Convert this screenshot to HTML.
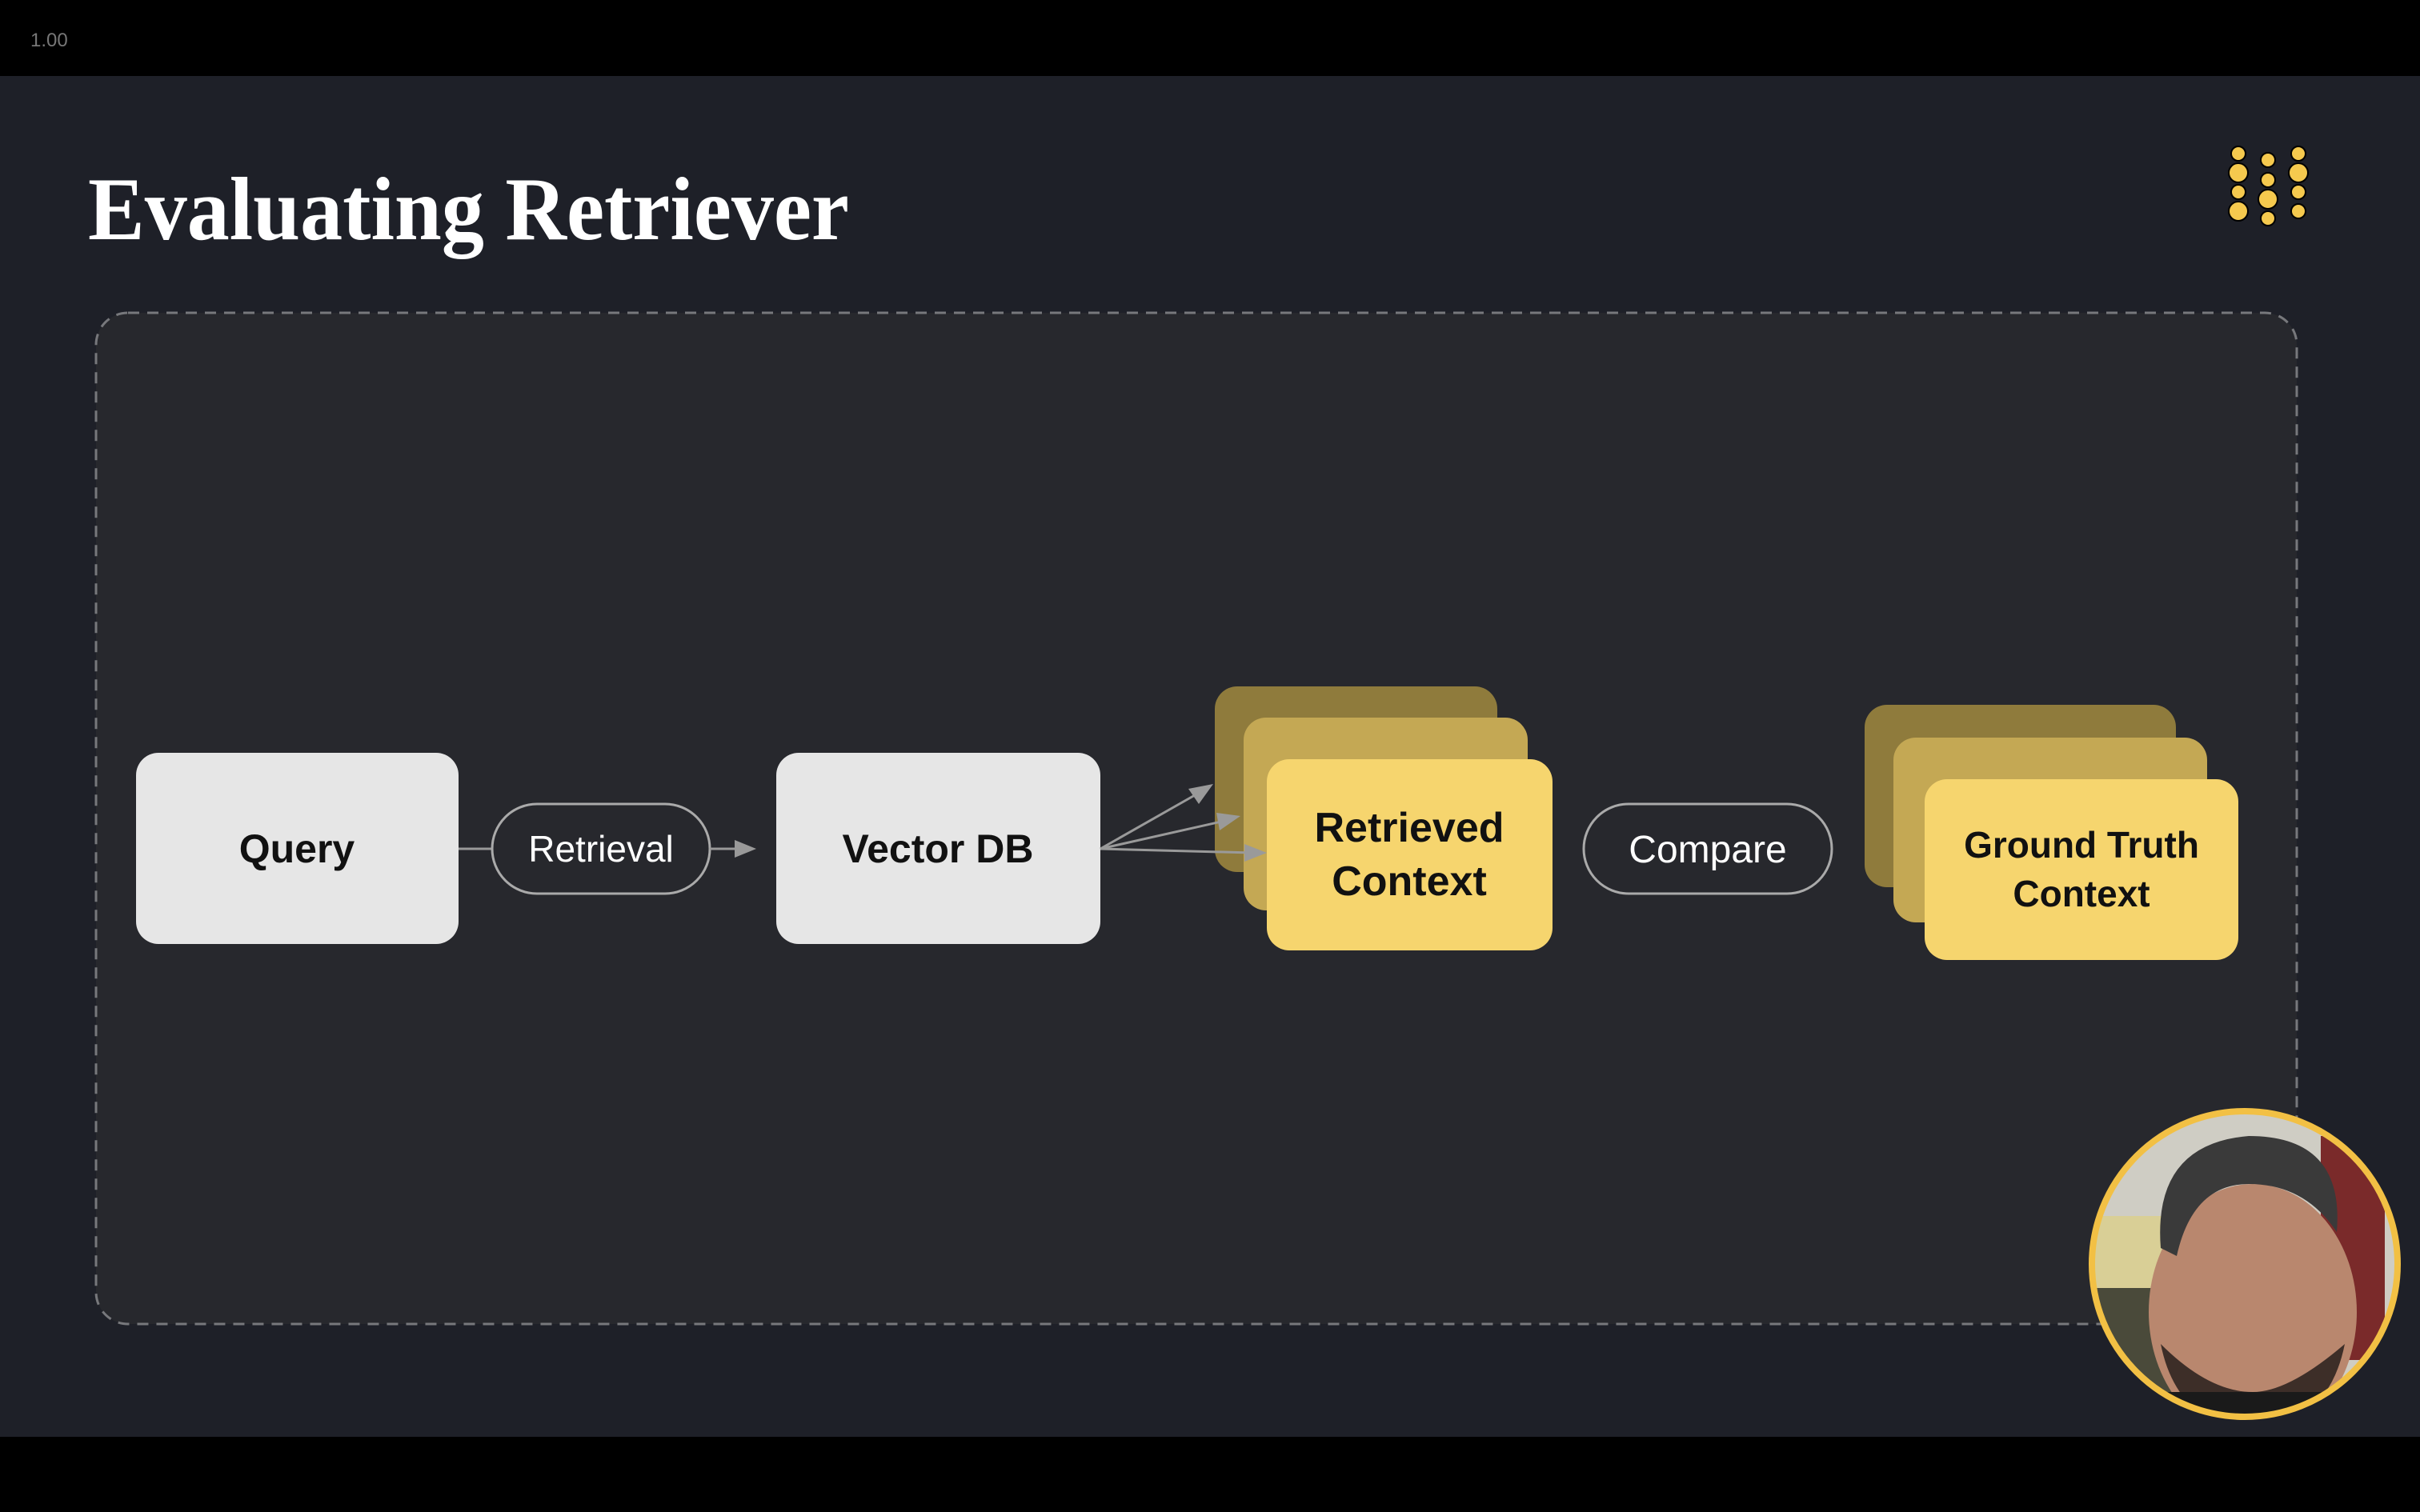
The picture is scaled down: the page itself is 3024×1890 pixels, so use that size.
<!DOCTYPE html>
<html><head><meta charset="utf-8"><style>
html,body{margin:0;padding:0;background:#1e2028;}
svg{display:block}
</style></head><body>
<svg width="3024" height="1890" viewBox="0 0 3024 1890" xmlns="http://www.w3.org/2000/svg">
<rect x="0" y="0" width="3024" height="1890" fill="#1e2028"/>
<rect x="0" y="0" width="3024" height="95" fill="#000"/>
<rect x="0" y="1796" width="3024" height="94" fill="#000"/>
<text x="38" y="58" font-family="Liberation Sans, sans-serif" font-size="24" fill="#777">1.00</text>
<text x="110" y="299" font-family="Liberation Serif, serif" font-weight="bold" font-size="112" fill="#fff" textLength="951" lengthAdjust="spacingAndGlyphs">Evaluating Retriever</text>
<g fill="#f5c94e" stroke="#000" stroke-width="2">
<circle cx="2797" cy="192" r="9"/><circle cx="2797" cy="216" r="12"/><circle cx="2797" cy="240" r="9"/><circle cx="2797" cy="264" r="12"/>
<circle cx="2834" cy="200" r="9"/><circle cx="2834" cy="225" r="9"/><circle cx="2834" cy="249" r="12"/><circle cx="2834" cy="273" r="9"/>
<circle cx="2872" cy="192" r="9"/><circle cx="2872" cy="216" r="12"/><circle cx="2872" cy="240" r="9"/><circle cx="2872" cy="264" r="9"/>
</g>
<rect x="120" y="391" width="2750" height="1264" rx="40" fill="#27282d" stroke="#77787c" stroke-width="3" stroke-dasharray="14 10"/>
<g font-family="Liberation Sans, sans-serif" text-anchor="middle">
<rect x="170" y="941" width="403" height="239" rx="28" fill="#e6e6e6"/>
<text x="371" y="1078" font-size="50" font-weight="bold" fill="#111">Query</text>
<line x1="573" y1="1061" x2="615" y2="1061" stroke="#999" stroke-width="3"/>
<rect x="615" y="1005" width="272" height="112" rx="56" fill="none" stroke="#aaa" stroke-width="3"/>
<text x="751" y="1077" font-size="46" fill="#fff">Retrieval</text>
<line x1="887" y1="1061" x2="930" y2="1061" stroke="#999" stroke-width="3"/>
<polygon points="945,1061 918,1050 918,1072" fill="#999"/>
<rect x="970" y="941" width="405" height="239" rx="28" fill="#e6e6e6"/>
<text x="1172" y="1078" font-size="50" font-weight="bold" fill="#111">Vector DB</text>
<rect x="1518" y="858" width="353" height="232" rx="28" fill="#8f7b3c"/>
<rect x="1554" y="897" width="355" height="241" rx="28" fill="#c4a854"/>
<g stroke="#9a9a9a" stroke-width="3"><line x1="1375" y1="1061" x2="1500" y2="990"/><line x1="1375" y1="1061" x2="1535" y2="1025"/><line x1="1375" y1="1061" x2="1565" y2="1066"/></g>
<g fill="#9a9a9a"><polygon points="1516,980 1485,986 1498,1005"/><polygon points="1550,1020 1520,1016 1524,1038"/><polygon points="1583,1066 1555,1055 1555,1077"/></g>
<rect x="1583" y="949" width="357" height="239" rx="28" fill="#f6d56e"/>
<text x="1761" y="1052" font-size="52" font-weight="bold" fill="#111">Retrieved</text>
<text x="1761" y="1119" font-size="52" font-weight="bold" fill="#111">Context</text>
<rect x="1979" y="1005" width="310" height="112" rx="56" fill="none" stroke="#aaa" stroke-width="3"/>
<text x="2134" y="1078" font-size="48" fill="#fff">Compare</text>
<rect x="2330" y="881" width="389" height="228" rx="28" fill="#8f7b3c"/>
<rect x="2366" y="922" width="392" height="231" rx="28" fill="#c4a854"/>
<rect x="2405" y="974" width="392" height="226" rx="28" fill="#f6d56e"/>
<text x="2601" y="1072" font-size="46" font-weight="bold" fill="#111">Ground Truth</text>
<text x="2601" y="1133" font-size="46" font-weight="bold" fill="#111">Context</text>
</g>
<defs><clipPath id="c"><circle cx="2805" cy="1580" r="190"/></clipPath></defs>
<g clip-path="url(#c)">
<rect x="2600" y="1380" width="420" height="400" fill="#cfcdc4"/>
<rect x="2600" y="1520" width="200" height="120" fill="#d9cf96"/>
<rect x="2600" y="1610" width="120" height="170" fill="#4a4a3a"/>
<rect x="2900" y="1420" width="80" height="280" fill="#7a2a2a"/>
<ellipse cx="2815" cy="1640" rx="130" ry="160" fill="#b9876e"/>
<path d="M2700 1560 Q2690 1430 2810 1420 Q2930 1420 2920 1540 Q2880 1480 2810 1480 Q2740 1480 2720 1570 Z" fill="#3a3a3a"/>
<path d="M2700 1680 Q2720 1780 2815 1790 Q2910 1780 2930 1680 Q2860 1740 2815 1740 Q2760 1740 2700 1680Z" fill="#3d2e28"/>
<rect x="2600" y="1740" width="420" height="60" fill="#1a1a1a"/>
</g>
<circle cx="2805" cy="1580" r="191" fill="none" stroke="#f2c044" stroke-width="8"/>
</svg>
</body></html>
